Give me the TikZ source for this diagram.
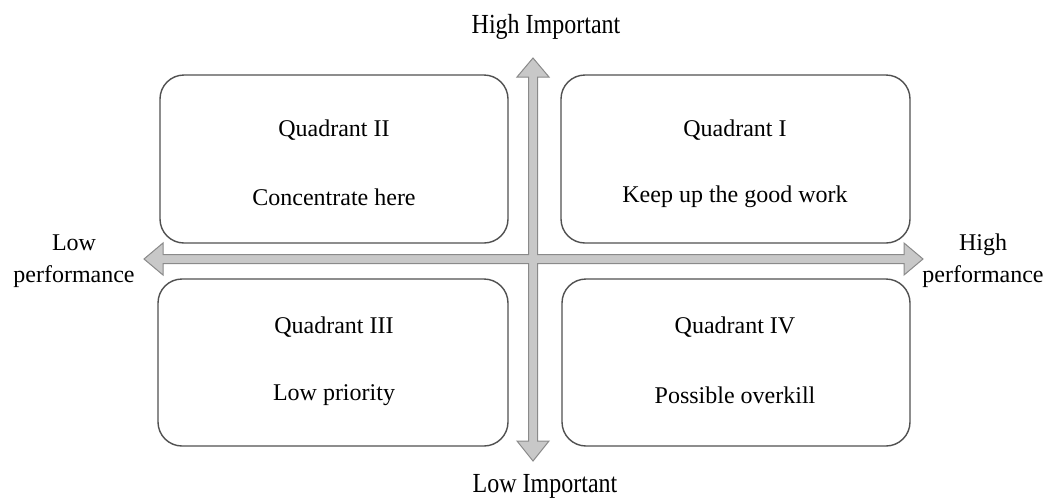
\documentclass[tikz,border=0pt]{standalone}
\usepackage{fontspec}
\setmainfont{Liberation Serif}
\newfontfamily\lblfont{Liberation Serif}
\definecolor{axisfill}{HTML}{C8C8C8}
\definecolor{axisline}{HTML}{8A8A8A}
\definecolor{boxline}{HTML}{505050}
\begin{document}
\begin{tikzpicture}[x=1pt,y=-1pt,
  quadbox/.style={draw=boxline, line width=1.4pt, rounded corners=24pt},
  lbl/.style={font=\lblfont\fontsize{24}{28}\selectfont, text=black, inner sep=0pt, align=center},
  axislbl/.style={lbl, yscale=1.15},
  axisshape/.style={fill=axisfill, draw=axisline, line width=1pt, line join=miter}]
\useasboundingbox (0,0) rectangle (1045,499);
% quadrant boxes
\draw[quadbox] (160,75) rectangle (508,243);
\draw[quadbox] (561,75) rectangle (910,243);
\draw[quadbox] (158,279) rectangle (508,446);
\draw[quadbox] (562,279) rectangle (910,446);
% axes cross
\draw[axisshape] (533,58) -- (549,77) -- (537.5,77) -- (537.5,254.5) -- (904,254.5) -- (904,243)
  -- (923,259) -- (904,275) -- (904,263.5) -- (537.5,263.5) -- (537.5,441) -- (549,441)
  -- (533,461) -- (517,441) -- (528.5,441) -- (528.5,263.5) -- (163,263.5) -- (163,275)
  -- (144,259) -- (163,243) -- (163,254.5) -- (528.5,254.5) -- (528.5,77) -- (517,77) -- cycle;
% labels
\node[axislbl] (hi) at (546,27) {High Important};
\node[axislbl] (lo) at (545,486) {Low Important};
\node[lbl] (lp) at (74,261) {Low\\[4pt]performance};
\node[lbl] (hp) at (983,261) {High\\[4pt]performance};
\node[lbl] (q2) at (334,130) {Quadrant II};
\node[lbl] (q2t) at (334,197) {Concentrate here};
\node[lbl] (q1) at (735,130) {Quadrant I};
\node[lbl] (q1t) at (735,197) {Keep up the good work};
\node[lbl] (q3) at (334,327) {Quadrant III};
\node[lbl] (q3t) at (334,395) {Low priority};
\node[lbl] (q4) at (735,327) {Quadrant IV};
\node[lbl] (q4t) at (735,395) {Possible overkill};
\end{tikzpicture}
\end{document}
